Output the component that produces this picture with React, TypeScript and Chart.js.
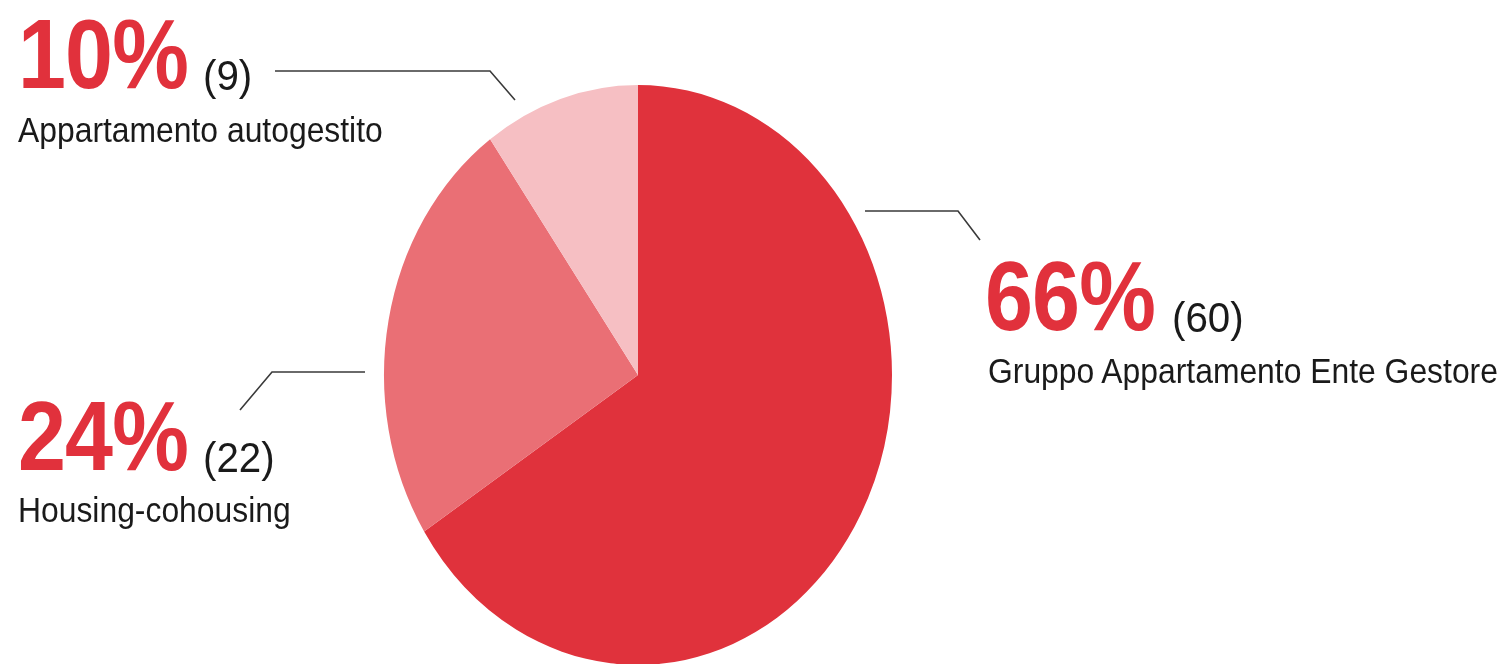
import React, { useEffect, useRef } from "react";
import { Chart, registerables } from "chart.js";

Chart.register(...registerables);

const categories = [
  "Gruppo Appartamento Ente Gestore",
  "Housing-cohousing",
  "Appartamento autogestito",
];
const counts = [60, 22, 9];
const percentLabels = ["66%", "24%", "10%"];
const sliceColors = ["#E0323C", "#EA6F75", "#F6BFC3"];

const W = 1504;
const H = 664;
const Y_STRETCH = 290 / 254;

const ellipsePlugin = {
  id: "ellipse",
  beforeDatasetsDraw(chart: any) {
    const arc = chart.getDatasetMeta(0).data[0];
    if (!arc) return;
    const ctx = chart.ctx;
    ctx.save();
    ctx.translate(arc.x, arc.y);
    ctx.scale(1, Y_STRETCH);
    ctx.translate(-arc.x, -arc.y);
  },
  afterDatasetsDraw(chart: any) {
    chart.ctx.restore();
  },
};

const leaderPlugin = {
  id: "leaders",
  afterDraw(chart: any) {
    const ctx = chart.ctx;
    const lines = [
      [[865, 211], [958, 211], [980, 240]],
      [[365, 372], [272, 372], [240, 410]],
      [[275, 71], [490, 71], [515, 100]],
    ];
    ctx.save();
    ctx.strokeStyle = "#3a3a3a";
    ctx.lineWidth = 1.6;
    lines.forEach((pts) => {
      ctx.beginPath();
      ctx.moveTo(pts[0][0], pts[0][1]);
      for (let i = 1; i < pts.length; i++) ctx.lineTo(pts[i][0], pts[i][1]);
      ctx.stroke();
    });
    ctx.restore();
  },
};

const FONT = "'Liberation Sans', Arial, Helvetica, sans-serif";

function Txt(props: {
  x: number;
  baseline: number;
  size: number;
  scale: number;
  bold?: boolean;
  color: string;
  children: React.ReactNode;
}) {
  const { x, baseline, size, scale, bold, color, children } = props;
  return (
    <span
      style={{
        position: "absolute",
        left: x,
        top: baseline - 0.8465 * size,
        fontFamily: FONT,
        fontSize: size,
        lineHeight: 1,
        fontWeight: bold ? 700 : 400,
        color,
        whiteSpace: "nowrap",
        transform: `scaleX(${scale})`,
        transformOrigin: "left top",
        letterSpacing: bold ? "-1px" : "0px",
      }}
    >
      {children}
    </span>
  );
}

const labelLayout = [
  { x: 985, base: 330, px: 1172, lx: 988, lbase: 383 },
  { x: 18, base: 470, px: 203, lx: 18, lbase: 522 },
  { x: 18, base: 88, px: 203, lx: 18, lbase: 142 },
];

export default function App() {
  const ref = useRef<HTMLCanvasElement>(null);

  useEffect(() => {
    document.body.style.margin = "0";
    document.body.style.background = "#ffffff";
    if (!ref.current) return;
    const chart = new Chart(ref.current, {
      type: "pie",
      data: {
        labels: categories,
        datasets: [
          {
            data: counts,
            backgroundColor: sliceColors,
            borderWidth: 0,
          },
        ],
      },
      options: {
        responsive: false,
        animation: false,
        rotation: 0,
        layout: { padding: { left: 384, right: 612, top: 121, bottom: 35 } },
        plugins: {
          legend: { display: false },
          tooltip: { enabled: false },
        },
      },
      plugins: [ellipsePlugin, leaderPlugin],
    });
    return () => chart.destroy();
  }, []);

  return (
    <div style={{ position: "relative", width: W, height: H, overflow: "hidden", background: "#fff" }}>
      <canvas ref={ref} width={W} height={H} style={{ position: "absolute", left: 0, top: 0, width: W, height: H }} />
      {categories.map((c, i) => {
        const L = labelLayout[i];
        return (
          <React.Fragment key={c}>
            <Txt x={L.x} baseline={L.base} size={98} scale={0.88} bold color="#E1313C">
              {percentLabels[i]}
            </Txt>
            <Txt x={L.px} baseline={L.base + 3} size={42} scale={0.96} color="#1a1a1a">
              ({counts[i]})
            </Txt>
            <Txt x={L.lx} baseline={L.lbase} size={35} scale={0.91} color="#1a1a1a">
              {c}
            </Txt>
          </React.Fragment>
        );
      })}
    </div>
  );
}
